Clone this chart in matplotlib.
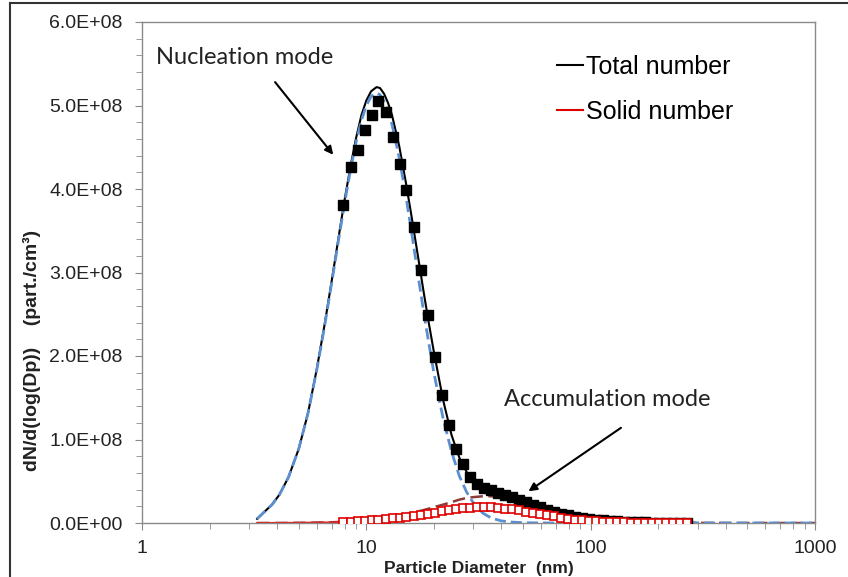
import numpy as np
import matplotlib
matplotlib.use("Agg")
import matplotlib.pyplot as plt
from matplotlib.ticker import MultipleLocator, FuncFormatter, LogLocator, NullFormatter
from matplotlib.lines import Line2D

plt.rcParams["font.family"] = ["Liberation Sans", "DejaVu Sans"]

# measured size distribution (channel midpoints, nm) ; values in 1e8 part./cm3
dp = [7.91, 8.51, 9.14, 9.82, 10.6, 11.3, 12.2, 13.1, 14.1, 15.1, 16.3, 17.5, 18.8, 20.2,
      21.7, 23.3, 25.0, 26.9, 28.9, 31.1, 33.4, 35.9, 38.5, 41.4, 44.5, 47.8, 51.4, 55.2,
      59.4, 63.8, 68.5, 73.7, 79.1, 85.1, 91.4, 98.2, 105.5, 113.4, 121.9, 131.0, 140.7,
      151.2, 162.5, 174.7, 187.7, 201.7, 216.7, 232.9, 250.3, 269.0]
total_n = [3.81, 4.26, 4.47, 4.71, 4.89, 5.05, 4.92, 4.62, 4.30, 3.99, 3.54, 3.03, 2.49, 1.99,
           1.53, 1.17, 0.89, 0.71, 0.55, 0.47, 0.42, 0.39, 0.36, 0.34, 0.31, 0.28, 0.25, 0.22,
           0.19, 0.16, 0.13, 0.11, 0.09, 0.075, 0.06, 0.05, 0.04, 0.032, 0.025, 0.02, 0.015,
           0.012, 0.009, 0.007, 0.005, 0.004, 0.003, 0.0025, 0.002, 0.0015]
solid_n = [0.010, 0.014, 0.019, 0.024, 0.031, 0.037, 0.046, 0.055, 0.065, 0.075, 0.087, 0.098,
           0.111, 0.125, 0.139, 0.152, 0.165, 0.176, 0.184, 0.189, 0.190, 0.187, 0.181, 0.172,
           0.162, 0.150, 0.136, 0.122, 0.107, 0.092, 0.078, 0.064, 0.052, 0.041, 0.032, 0.025,
           0.019, 0.014, 0.010, 0.008, 0.006, 0.005, 0.004, 0.003, 0.002, 0.002, 0.001, 0.001,
           0.001, 0.001]

# fitted curves
fit_d = [3.26, 3.5, 3.8, 4.1, 4.5, 5.0, 5.5, 6.0, 6.5, 7.0, 7.5, 8.0, 8.5, 9.0, 9.5, 10, 10.5,
         11.1, 11.5, 12, 12.5, 13, 14, 15, 16, 17, 18, 19, 20, 22, 24, 26, 28, 30, 33, 36, 40,
         45, 50, 55, 60, 70, 80, 90, 100, 120, 150, 200, 300, 500, 1000]
fit_total = [0.05, 0.13, 0.22, 0.34, 0.55, 0.89, 1.32, 1.83, 2.36, 2.89, 3.40, 3.87, 4.27, 4.61,
             4.88, 5.06, 5.17, 5.22, 5.21, 5.14, 5.03, 4.89, 4.52, 4.08, 3.63, 3.19, 2.77, 2.39,
             2.05, 1.47, 1.05, 0.78, 0.61, 0.51, 0.43, 0.39, 0.35, 0.31, 0.265, 0.225, 0.185,
             0.125, 0.085, 0.06, 0.045, 0.025, 0.012, 0.004, 0.001, np.nan, np.nan]
fit_nuc = [0.05, 0.13, 0.22, 0.34, 0.55, 0.89, 1.32, 1.82, 2.34, 2.87, 3.37, 3.83, 4.23, 4.56,
           4.82, 5.00, 5.11, 5.15, 5.13, 5.05, 4.93, 4.78, 4.38, 3.92, 3.44, 2.97, 2.53, 2.15,
           1.80, 1.25, 0.85, 0.56, 0.37, 0.24, 0.12, 0.06, 0.025, 0.01, 0.004, 0.002, 0.001,
           0, 0, 0, 0, 0, 0, 0, 0, 0, 0]
fit_acc = [0, 0, 0, 0, 0.001, 0.002, 0.003, 0.005, 0.007, 0.009, 0.012, 0.015, 0.019, 0.024,
           0.030, 0.036, 0.042, 0.050, 0.055, 0.061, 0.068, 0.075, 0.090, 0.105, 0.120, 0.138,
           0.155, 0.172, 0.19, 0.22, 0.25, 0.28, 0.30, 0.31, 0.32, 0.32, 0.315, 0.30,
           0.265, 0.225, 0.185, 0.125, 0.085, 0.06, 0.045, 0.025, 0.012, 0.004, 0.001, 0, 0]
fit_solid = [0, 0, 0, 0.001, 0.001, 0.002, 0.003, 0.004, 0.005, 0.007, 0.009, 0.011, 0.014,
             0.018, 0.022, 0.026, 0.030, 0.035, 0.039, 0.044, 0.049, 0.054, 0.064, 0.074, 0.084,
             0.094, 0.104, 0.114, 0.124, 0.142, 0.157, 0.170, 0.180, 0.187, 0.190, 0.187, 0.177,
             0.162, 0.145, 0.126, 0.108, 0.076, 0.052, 0.035, 0.024, 0.011, 0.004, 0.001, 0.0,
             np.nan, np.nan]

E8 = 1e8
fig = plt.figure(figsize=(8.48, 5.77), dpi=100)
ax = fig.add_axes([142/848, 1-523/577, (815-142)/848, (523-22)/577])

ax.plot(fit_d, np.array(fit_acc)*E8, color="#8c3b3b", lw=1.8, dashes=(5, 2.2), zorder=2)
ax.plot(fit_d, np.array(fit_solid)*E8, color="#e02020", lw=1.5, zorder=2)
ax.plot(fit_d, np.array(fit_total)*E8, color="black", lw=1.5, zorder=3)
ax.plot(fit_d, np.array(fit_nuc)*E8, color="#5b8fd0", lw=2.0, dashes=(4, 1.8), zorder=3)
ax.plot(dp, np.array(total_n)*E8, ls="none", marker="s", ms=6.5, color="black", zorder=4)
ax.plot(dp, np.array(solid_n)*E8, ls="none", marker="s", ms=5.2, mfc="white",
        mec="#e00000", mew=1.2, zorder=5)

ax.set_xscale("log")
ax.set_xlim(1, 1000)
ax.set_ylim(0, 6e8)
ax.yaxis.set_major_locator(MultipleLocator(1e8))
ax.yaxis.set_minor_locator(MultipleLocator(0.2e8))
ax.yaxis.set_major_formatter(FuncFormatter(lambda v, p: "%.1E" % v))
ax.xaxis.set_major_locator(LogLocator(base=10))
ax.xaxis.set_minor_locator(LogLocator(base=10, subs=np.arange(2, 10)))
ax.xaxis.set_minor_formatter(NullFormatter())
ax.xaxis.set_major_formatter(FuncFormatter(lambda v, p: "%g" % v))

for s in ax.spines.values():
    s.set_color("#8a8a8a")
    s.set_linewidth(1.0)
ax.tick_params(which="both", direction="out", colors="#8a8a8a", labelcolor="#222222",
               labelsize=14, top=False, right=False)
ax.tick_params(which="major", length=5)
ax.tick_params(which="minor", length=4.5)
ax.tick_params(axis="y", pad=9)
ax.tick_params(axis="x", pad=7)

lab = dict(fontweight="bold", color="#222222")
ax.set_xlabel("Particle Diameter  (nm)", fontsize=12.5, **lab)
ax.set_ylabel("dN/d(log(Dp))    (part./cm³)", fontsize=14, **lab)
ax.xaxis.set_label_coords(0.5, -0.075)
ax.yaxis.set_label_coords(-0.150, 0.345)

handles = [Line2D([], [], color="black", lw=1.5), Line2D([], [], color="#e00000", lw=1.5)]
ax.legend(handles, ["Total number", "Solid number"], loc="upper left",
          bbox_to_anchor=((557-142)/673, 0.935), borderaxespad=0, borderpad=0,
          frameon=False, handlelength=1.05, handletextpad=0.1, labelspacing=0.86,
          prop=dict(size=18))

ann = dict(family="Lato", fontsize=17, color="#222222", ha="center", va="center")
arw = dict(arrowstyle="-|>", color="black", lw=1.5, shrinkA=0, shrinkB=0, mutation_scale=12)
ax.text(2.88, 5.58e8, "Nucleation mode", **ann)
ax.annotate("", xy=(7.12, 4.41e8), xytext=(3.92, 5.28e8), arrowprops=arw)
ax.text(118, 1.48e8, "Accumulation mode", **ann)
ax.annotate("", xy=(52.8, 0.38e8), xytext=(136.5, 1.14e8), arrowprops=arw)

# outer frame of the original picture
fig.add_artist(Line2D([10/848, 1], [1-3/577, 1-3/577], color="#333333", lw=1.5))
fig.add_artist(Line2D([10/848, 10/848], [0, 1-3/577], color="#333333", lw=1.5))

fig.savefig("out.png", dpi=100)
